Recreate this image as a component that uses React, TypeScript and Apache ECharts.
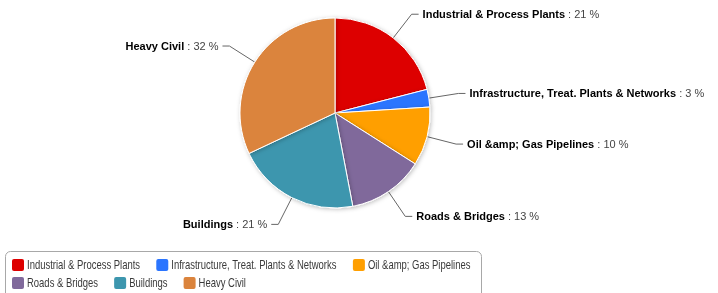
import React, { useEffect, useRef } from "react";
import * as echarts from "echarts";

const categories = [
  "Industrial & Process Plants",
  "Infrastructure, Treat. Plants & Networks",
  "Oil &amp; Gas Pipelines",
  "Roads & Bridges",
  "Buildings",
  "Heavy Civil",
];
const percents = [21, 3, 10, 13, 21, 32];
const colors = ["#DD0000", "#2B75FF", "#FF9F00", "#80699B", "#3D96AE", "#DB843D"];

const LEGEND_FONT = "12px 'Liberation Sans'";
const TEXT_SCALE = 0.79;

function buildLegend() {
  const ctx = document.createElement("canvas").getContext("2d");
  if (ctx) ctx.font = LEGEND_FONT;
  const measure = (s: string) => (ctx ? ctx.measureText(s).width : s.length * 6);
  const els: any[] = [
    {
      type: "rect",
      shape: { x: 5.5, y: 251.5, width: 476, height: 60, r: 5 },
      style: { fill: "#fff", stroke: "#a8a8a8", lineWidth: 1 },
      z: 1,
    },
  ];
  const left = 12;
  const right = 476;
  let x = left;
  let y = 265;
  categories.forEach((name, i) => {
    const w = measure(name) * TEXT_SCALE;
    if (x + 15 + w > right && x > left) {
      x = left;
      y += 18;
    }
    els.push({
      type: "rect",
      shape: { x, y: y - 6, width: 12, height: 12, r: 2 },
      style: { fill: colors[i] },
      z: 2,
    });
    els.push({
      type: "text",
      x: x + 15,
      y,
      scaleX: TEXT_SCALE,
      style: {
        text: name,
        font: LEGEND_FONT,
        fill: "#3a3a3a",
        verticalAlign: "middle",
        align: "left",
      },
      z: 2,
    });
    x += 15 + w + 16;
  });
  return els;
}

export default function App() {
  const ref = useRef<HTMLDivElement>(null);
  useEffect(() => {
    if (!ref.current) return;
    const chart = echarts.init(ref.current, undefined, { renderer: "svg" });
    chart.setOption({
      animation: false,
      color: colors,
      textStyle: { fontFamily: "Liberation Sans" },
      graphic: buildLegend(),
      series: [
        {
          type: "pie",
          center: [335, 113],
          radius: 95,
          startAngle: 90,
          clockwise: true,
          itemStyle: {
            borderColor: "#fff",
            borderWidth: 1,
            shadowBlur: 4,
            shadowColor: "rgba(0,0,0,0.25)",
            shadowOffsetX: 1,
            shadowOffsetY: 1,
          },
          emphasis: { disabled: true },
          label: {
            show: true,
            position: "outside",
            distanceToLabelLine: 4,
            formatter: "{n|{b}}{v| : {c} %}",
            rich: {
              n: { fontWeight: "bold", color: "#000", fontSize: 11, fontFamily: "Liberation Sans" },
              v: { color: "#444", fontSize: 11, fontFamily: "Liberation Sans" },
            },
          },
          labelLine: {
            show: true,
            length: 30,
            length2: 7,
            lineStyle: { color: "#666", width: 1 },
          },
          data: categories.map((c, i) => ({ name: c, value: percents[i] })),
        },
      ],
    });
    return () => chart.dispose();
  }, []);
  return (
    <div
      ref={ref}
      style={{ position: "fixed", left: 0, top: 0, width: 718, height: 293 }}
    />
  );
}
